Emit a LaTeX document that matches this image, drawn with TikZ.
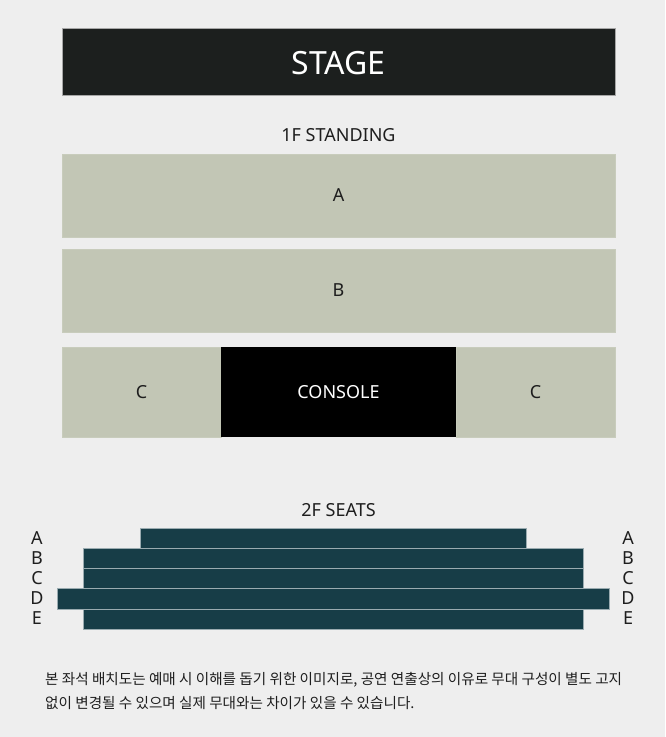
\documentclass[tikz,border=0pt]{standalone}
\usepackage{fontspec}
\setmainfont{Noto Sans}
\newfontfamily\krfont{Noto Sans CJK KR}
\definecolor{bgc}{HTML}{EEEEEE}
\definecolor{stagec}{HTML}{1C1F1E}
\definecolor{standc}{HTML}{C2C6B5}
\definecolor{seatc}{HTML}{173D47}
\definecolor{seatedge}{HTML}{9AABB0}
\definecolor{txtc}{HTML}{1E1E1E}
\begin{document}
\begin{tikzpicture}[x=1pt,y=-1pt,
  zone/.style={rectangle, inner sep=0pt, fill=standc, draw=standc!90!white, line width=0.5pt, text=txtc, font=\fontsize{18}{20}\selectfont},
  darkzone/.style={rectangle, inner sep=0pt, text=white},
  seatrow/.style={fill=seatc, draw=seatedge, line width=0.7pt},
  rowlbl/.style={text=txtc, font=\fontsize{18}{20}\selectfont, inner sep=0pt},
  title/.style={text=txtc, font=\fontsize{18}{20}\selectfont, inner sep=0pt},
  note/.style={text=txtc, font=\krfont\fontsize{14.6}{17}\selectfont, inner sep=0pt, anchor=west}]
\fill[bgc] (0,0) rectangle (665,737);
\useasboundingbox (0,0) rectangle (665,737);
% stage
\node[darkzone, fill=stagec, draw=gray!70, line width=0.6pt, minimum width=553pt, minimum height=67pt] (stage) at (338.5,61.5) {};
\node[text=white, inner sep=0pt, font=\fontsize{32}{34}\selectfont] (stagelbl) at (338.5,63.5) {STAGE};
\node[title] (standing) at (338.5,135) {1F STANDING};
% standing zones
\node[zone, minimum width=553pt, minimum height=83pt] (za) at (338.5,195.5) {A};
\node[zone, minimum width=553pt, minimum height=83pt] (zb) at (338.5,290.5) {B};
\node[zone, minimum width=159pt, minimum height=90pt] (zcl) at (141.5,392) {C};
\node[darkzone, fill=black, minimum width=235pt, minimum height=90pt, font=\fontsize{18}{20}\selectfont] (console) at (338.5,392) {CONSOLE};
\node[zone, minimum width=159pt, minimum height=90pt] (zcr) at (535.5,392) {C};
% 2F seats
\node[title] (seats) at (338.5,510) {2F SEATS};
\draw[seatrow] (140,528) rectangle (526,548);
\draw[seatrow] (83,548) rectangle (583,568);
\draw[seatrow] (83,568) rectangle (583,588);
\draw[seatrow] (57,588) rectangle (609,609);
\draw[seatrow] (83,609) rectangle (583,629);
\foreach \l/\y in {A/538,B/558,C/578,D/598,E/618}{
  \node[rowlbl] (l\l) at (37,\y) {\l};
  \node[rowlbl] (r\l) at (628,\y) {\l};
}
% note
\node[note] (n1) at (45,680) {본 좌석 배치도는 예매 시 이해를 돕기 위한 이미지로, 공연 연출상의 이유로 무대 구성이 별도 고지};
\node[note] (n2) at (45,703) {없이 변경될 수 있으며 실제 무대와는 차이가 있을 수 있습니다.};
\end{tikzpicture}
\end{document}
